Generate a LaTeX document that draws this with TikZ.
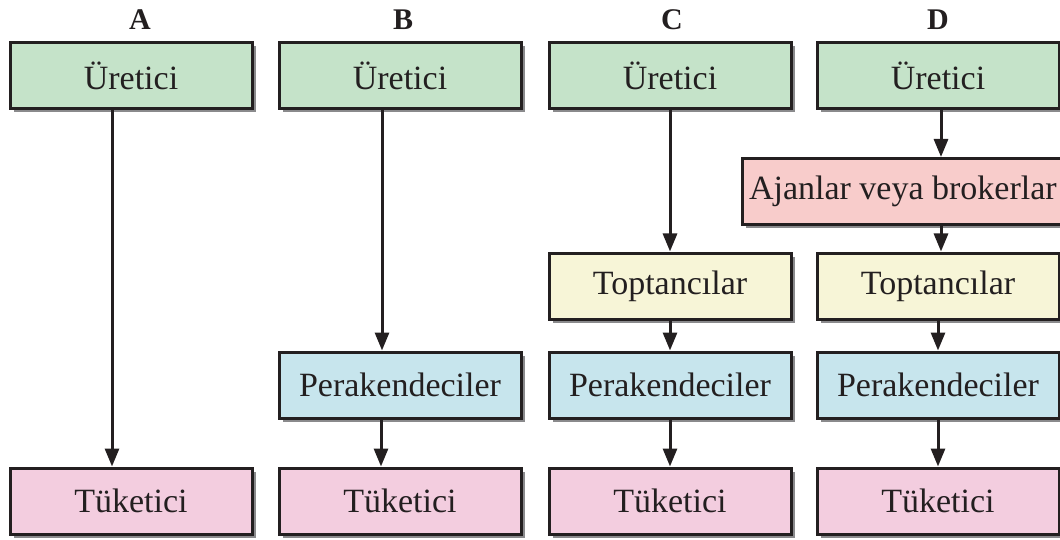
\documentclass[tikz,border=0pt]{standalone}
\usepackage{fontspec}
\setmainfont{Liberation Serif}
\usetikzlibrary{shadows,arrows.meta}
\definecolor{boxline}{HTML}{231F20}
\definecolor{shadowgray}{HTML}{8A8A8C}
\definecolor{prodfill}{HTML}{C5E3C9}
\definecolor{agentfill}{HTML}{F8CCCB}
\definecolor{wholefill}{HTML}{F7F5D7}
\definecolor{retailfill}{HTML}{C7E5ED}
\definecolor{consfill}{HTML}{F3CDDF}
\begin{document}
\begin{tikzpicture}[x=1pt,y=-1pt,
  box/.style={draw=boxline, line width=3pt, minimum width=242pt, minimum height=66pt,
    inner sep=0pt, text=boxline, font=\fontsize{34}{39}\selectfont,
    drop shadow={shadow xshift=4pt, shadow yshift=-4pt, fill=shadowgray, opacity=1}},
  title/.style={text=boxline, font=\fontsize{30}{34}\selectfont\bfseries},
  flow/.style={draw=boxline, line width=3pt, -{Triangle[length=18pt,width=14pt]}}]
\useasboundingbox (0,0) rectangle (1060,540);
\clip (0,0) rectangle (1060,540);

% column headings
\node[title] (ta) at (140,20) {A};
\node[title] (tb) at (403,20) {B};
\node[title] (tc) at (672,20) {C};
\node[title] (td) at (938,20) {D};

% channel A
\node[box, fill=prodfill] (a1) at (131,75.5) {Üretici};
\node[box, fill=consfill] (a5) at (131,501) {Tüketici};

% channel B
\node[box, fill=prodfill] (b1) at (400,75.5) {Üretici};
\node[box, fill=retailfill] (b4) at (400,385) {Perakendeciler};
\node[box, fill=consfill] (b5) at (400,501) {Tüketici};

% channel C
\node[box, fill=prodfill] (c1) at (670,75.5) {Üretici};
\node[box, fill=wholefill] (c3) at (670,286) {Toptancılar};
\node[box, fill=retailfill] (c4) at (670,385) {Perakendeciler};
\node[box, fill=consfill] (c5) at (670,501) {Tüketici};

% channel D (the agents box runs past the right edge)
\node[box, fill=prodfill] (d1) at (938,75.5) {Üretici};
\node[box, fill=agentfill, minimum width=392pt] (d2) at (938,191.5)
  {\makebox[392pt][l]{\hspace{7pt}Ajanlar veya brokerlar}};
\node[box, fill=wholefill] (d3) at (938,286) {Toptancılar};
\node[box, fill=retailfill] (d4) at (938,385) {Perakendeciler};
\node[box, fill=consfill] (d5) at (938,501) {Tüketici};

% connectors
\draw[flow] ([xshift=-19pt]a1.south) -- ([xshift=-19pt]a5.north);
\draw[flow] ([xshift=-18pt]b1.south) -- ([xshift=-18pt]b4.north);
\draw[flow] ([xshift=-19pt]b4.south) -- ([xshift=-19pt]b5.north);
\draw[flow] (c1) -- (c3);
\draw[flow] (c3) -- (c4);
\draw[flow] (c4) -- (c5);
\draw[flow] ([xshift=3pt]d1.south) -- ([xshift=3pt]d2.north);
\draw[flow] ([xshift=3pt]d2.south) -- ([xshift=3pt]d3.north);
\draw[flow] (d3) -- (d4);
\draw[flow] (d4) -- (d5);
\end{tikzpicture}
\end{document}
